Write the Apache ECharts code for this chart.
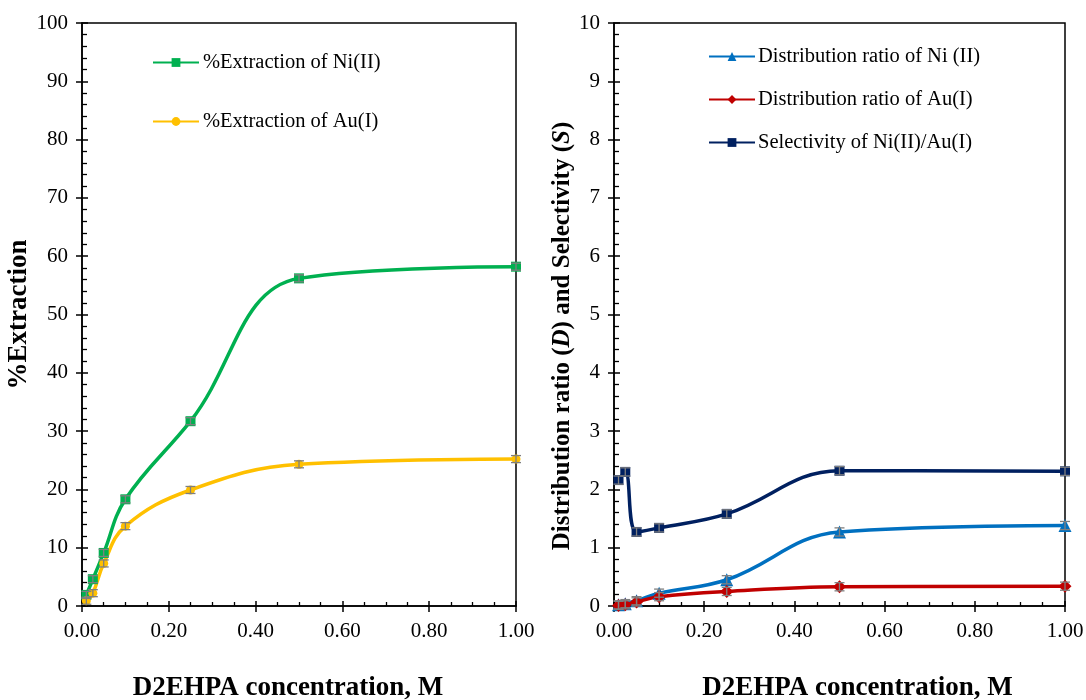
<!DOCTYPE html>
<html><head><meta charset="utf-8">
<script src="https://cdn.jsdelivr.net/npm/echarts@6/dist/echarts.min.js"></script>
<style>html,body{margin:0;padding:0;background:#fff}#c{width:1086px;height:700px}</style>
</head><body><div id="c"></div>
<script>
const conc = [0.01, 0.025, 0.05, 0.1, 0.25, 0.5, 1.0];
const extNi = [1.9, 4.6, 9.1, 18.3, 31.7, 56.2, 58.2];
const extAu = [0.9, 2.2, 7.3, 13.7, 19.9, 24.3, 25.2];
const errExtNi = [0.6, 0.6, 0.6, 0.6, 0.6, 0.6, 0.6];
const errExtAu = [0.6, 0.6, 0.6, 0.6, 0.6, 0.6, 0.6];
const distNi = [0.02, 0.04, 0.09, 0.22, 0.45, 1.27, 1.38];
const distAu = [0.01, 0.02, 0.07, 0.16, 0.25, 0.33, 0.34];
const selNiAu = [2.16, 2.30, 1.27, 1.34, 1.58, 2.32, 2.31];
const errDist = [0.07, 0.07, 0.07, 0.07, 0.07, 0.07, 0.07];
const xTickLabels = ['0.00','0.20','0.40','0.60','0.80','1.00'];

const FONT = '"Liberation Serif","Times New Roman",serif';
const pairs = (xs, ys) => xs.map((x, i) => [x, ys[i]]);

function errSeries(xIdx, yIdx, ys, errs) {
  return {
    type: 'custom', xAxisIndex: xIdx, yAxisIndex: yIdx, silent: true, z: 5,
    data: conc.map((x, i) => [x, ys[i], errs[i]]),
    renderItem: function (params, api) {
      const x = api.value(0), y = api.value(1), e = api.value(2);
      const hi = api.coord([x, y + e]), lo = api.coord([x, y - e]);
      const w = 5;
      const st = { stroke: '#7f7f7f', lineWidth: 1.3 };
      return { type: 'group', children: [
        { type: 'line', shape: { x1: hi[0], y1: hi[1], x2: lo[0], y2: lo[1] }, style: st },
        { type: 'line', shape: { x1: hi[0]-w, y1: hi[1], x2: hi[0]+w, y2: hi[1] }, style: st },
        { type: 'line', shape: { x1: lo[0]-w, y1: lo[1], x2: lo[0]+w, y2: lo[1] }, style: st }
      ]};
    }
  };
}

const blk = { color: '#000', width: 1.5 };
const labelStyle = { fontFamily: FONT, fontSize: 21, color: '#000' };

function xMain(gi, pad) {
  return {
    type: 'value', gridIndex: gi, min: 0, max: 1, interval: 0.2, position: 'bottom',
    name: 'D2EHPA concentration, M', nameLocation: 'middle', nameGap: 69,
    nameTextStyle: { fontFamily: FONT, fontWeight: 'bold', fontSize: 27, color: '#000', padding: pad },
    axisLine: { show: true, onZero: false, lineStyle: blk },
    axisTick: { show: true, length: 6, lineStyle: { color: '#000', width: 1.5 } },
    minorTick: { show: false }, splitLine: { show: false },
    axisLabel: Object.assign({ margin: 15, formatter: v => xTickLabels[Math.round(v / 0.2)] }, labelStyle)
  };
}
function xOverlay(gi) {
  return {
    type: 'value', gridIndex: gi, min: 0, max: 1, interval: 0.2, position: 'bottom',
    axisLine: { show: false, onZero: false },
    axisTick: { show: true, inside: true, length: 5, lineStyle: { color: '#000', width: 1.5 } },
    minorTick: { show: true, splitNumber: 4, length: 4, lineStyle: { color: '#000', width: 1.3 } },
    splitLine: { show: false }, axisLabel: { show: false }
  };
}
function yMain(gi, max, interval, name, gap, nameStyle) {
  return {
    type: 'value', gridIndex: gi, min: 0, max: max, interval: interval, position: 'left',
    name: name, nameLocation: 'middle', nameGap: gap, nameTextStyle: nameStyle,
    axisLine: { show: true, onZero: false, lineStyle: blk },
    axisTick: { show: true, length: 6, lineStyle: { color: '#000', width: 1.5 } },
    minorTick: { show: false }, splitLine: { show: false },
    axisLabel: Object.assign({ margin: 14 }, labelStyle)
  };
}
function yOverlay(gi, max, interval) {
  return {
    type: 'value', gridIndex: gi, min: 0, max: max, interval: interval, position: 'left',
    axisLine: { show: false, onZero: false },
    axisTick: { show: true, inside: true, length: 6, lineStyle: { color: '#000', width: 1.5 } },
    minorTick: { show: true, splitNumber: 5, length: 5, lineStyle: { color: '#000', width: 1.3 } },
    splitLine: { show: false }, axisLabel: { show: false }
  };
}

const leftTitle = { fontFamily: FONT, fontWeight: 'bold', fontSize: 27, color: '#000' };
const rightTitle = { fontFamily: FONT, fontSize: 25, color: '#000', padding: [0, 43, 0, 0],
  rich: { b: { fontFamily: FONT, fontWeight: 'bold', fontSize: 25, color: '#000' },
          bi: { fontFamily: FONT, fontWeight: 'bold', fontStyle: 'italic', fontSize: 25, color: '#000' } } };

const gridBase = { top: 23, bottom: 94, show: true, borderColor: '#000', borderWidth: 1.5,
  backgroundColor: 'transparent', outerBoundsMode: 'none', containLabel: false };

const option = {
  animation: false,
  backgroundColor: '#fff',
  grid: [
    Object.assign({ left: 82, right: 570 }, gridBase),
    Object.assign({ left: 614, right: 21 }, gridBase)
  ],
  xAxis: [xMain(0, [0, 22, 0, 0]), xMain(1, [0, 0, 0, 36]), xOverlay(0), xOverlay(1)],
  yAxis: [
    yMain(0, 100, 10, '%Extraction', 46, leftTitle),
    yMain(1, 10, 1, '{b|Distribution ratio (}{bi|D}{b|) and Selectivity (}{bi|S}{b|)}', 26, rightTitle),
    yOverlay(0, 100, 10),
    yOverlay(1, 10, 1)
  ],
  legend: [
    { left: 152, top: 52, orient: 'vertical', itemWidth: 46, itemHeight: 11, itemGap: 38, padding: 0,
      textStyle: { fontFamily: FONT, fontSize: 20.5, color: '#000', padding: [0,0,0,-1] },
      data: ['%Extraction of Ni(II)', '%Extraction of Au(I)'] },
    { left: 708, top: 46, orient: 'vertical', itemWidth: 46, itemHeight: 11, itemGap: 22, padding: 0,
      textStyle: { fontFamily: FONT, fontSize: 20.5, color: '#000', padding: [0,0,0,-2] },
      data: ['Distribution ratio of Ni (II)', 'Distribution ratio of Au(I)', 'Selectivity of Ni(II)/Au(I)'] }
  ],
  series: [
    { name: '%Extraction of Ni(II)', type: 'line', xAxisIndex: 0, yAxisIndex: 0, smooth: 0.4,
      data: pairs(conc, extNi), symbol: 'rect', symbolSize: 10, z: 3,
      lineStyle: { color: '#00B050', width: 3.5 }, itemStyle: { color: '#00B050' } },
    { name: '%Extraction of Au(I)', type: 'line', xAxisIndex: 0, yAxisIndex: 0, smooth: 0.4,
      data: pairs(conc, extAu), symbol: 'circle', symbolSize: 9, z: 3,
      lineStyle: { color: '#FFC000', width: 3.5 }, itemStyle: { color: '#FFC000' } },
    errSeries(0, 0, extNi, errExtNi),
    errSeries(0, 0, extAu, errExtAu),
    { name: 'Distribution ratio of Ni (II)', type: 'line', xAxisIndex: 1, yAxisIndex: 1, smooth: 0.4,
      data: pairs(conc, distNi), symbol: 'triangle', symbolSize: 13, z: 3,
      lineStyle: { color: '#0070C0', width: 3.5 }, itemStyle: { color: '#0070C0' } },
    { name: 'Distribution ratio of Au(I)', type: 'line', xAxisIndex: 1, yAxisIndex: 1, smooth: 0.4,
      data: pairs(conc, distAu), symbol: 'diamond', symbolSize: 13, z: 3,
      lineStyle: { color: '#C00000', width: 3.5 }, itemStyle: { color: '#C00000' } },
    { name: 'Selectivity of Ni(II)/Au(I)', type: 'line', xAxisIndex: 1, yAxisIndex: 1, smooth: 0.4,
      data: pairs(conc, selNiAu), symbol: 'rect', symbolSize: 10, z: 3,
      lineStyle: { color: '#002060', width: 3.5 }, itemStyle: { color: '#002060' } },
    errSeries(1, 1, distNi, errDist),
    errSeries(1, 1, distAu, errDist),
    errSeries(1, 1, selNiAu, errDist)
  ]
};
echarts.init(document.getElementById('c'), null, { renderer: 'canvas' }).setOption(option);
</script></body></html>
